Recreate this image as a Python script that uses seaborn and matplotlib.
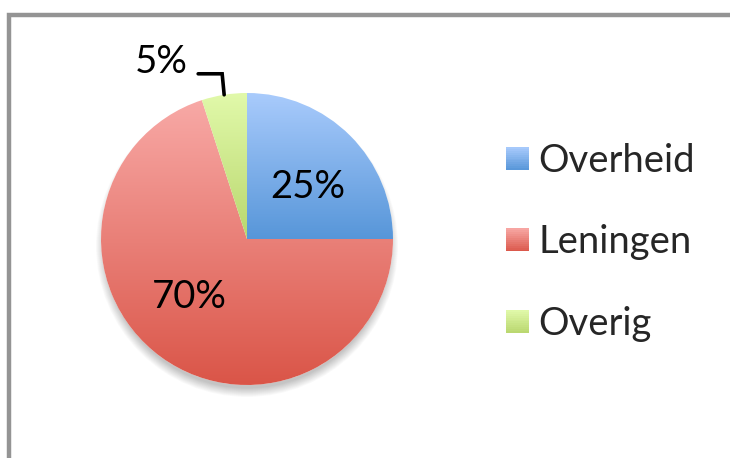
import numpy as np
import matplotlib
matplotlib.use("Agg")
import matplotlib.pyplot as plt
import seaborn as sns
from matplotlib.patches import Rectangle, Circle
from matplotlib.legend_handler import HandlerBase
from matplotlib.colors import LinearSegmentedColormap

# ---- data ----
categories = ["Overheid", "Leningen", "Overig"]
values = [25, 70, 5]
pct_labels = ["25%", "70%", "5%"]
# gradient colours (top, bottom) per category
top_colors = ["#A9CBFC", "#F8A9A6", "#E1F9AA"]
bottom_colors = ["#5796D9", "#DA5548", "#B9D76E"]

sns.set_theme(style="white")
plt.rcParams["font.family"] = ["Lato", "DejaVu Sans"]

W, H = 730, 458
fig = plt.figure(figsize=(W / 100, H / 100), dpi=100)
ax = fig.add_axes([0, 0, 1, 1])
ax.set_xlim(0, W)
ax.set_ylim(0, H)
ax.set_aspect("equal")
ax.axis("off")

# frame
ax.add_patch(Rectangle((8.5, -20), 800, H - 13 + 20 - 1.5, fill=False,
                       edgecolor="#949494", linewidth=3.2, zorder=1))

cx, cy, r = 247, H - 239, 146

# soft shadow (mostly below the pie)
for i in range(12):
    ax.add_patch(Circle((cx, cy - 7), r + 5 - i * 0.8, color="black",
                        alpha=0.02, lw=0, zorder=2))
ax.add_patch(Circle((cx, cy), r, color="white", lw=0, zorder=2.5))

wedges, texts = ax.pie(values, startangle=90, counterclock=False,
                       center=(cx, cy), radius=r, labels=None,
                       wedgeprops=dict(linewidth=0, edgecolor="none"))

for w, tc, bc in zip(wedges, top_colors, bottom_colors):
    w.set_facecolor("none")
    w.set_zorder(4)
    bb = w.get_path().get_extents(w.get_patch_transform())
    cmap = LinearSegmentedColormap.from_list("g", [bc, tc])
    grad = np.linspace(0, 1, 256).reshape(-1, 1)
    im = ax.imshow(grad, cmap=cmap, origin="lower", aspect="auto",
                   extent=(bb.x0, bb.x1, bb.y0, bb.y1), zorder=3,
                   interpolation="bilinear")
    im.set_clip_path(w)

ax.set_xlim(0, W)
ax.set_ylim(0, H)

fs = 27.5
# inside labels (best-fit style placement)
for w, lab, dang, dist in zip(wedges[:2], pct_labels[:2], [-4.5, -9], [0.55, 0.56]):
    ang = np.deg2rad((w.theta1 + w.theta2) / 2 + dang)
    ax.text(cx + dist * r * np.cos(ang), cy + dist * r * np.sin(ang), lab,
            ha="center", va="center", fontsize=fs, color="black", zorder=6)

# outside label with leader
w = wedges[2]
ang = np.deg2rad((w.theta1 + w.theta2) / 2)
ex, ey = cx + r * np.cos(ang), cy + r * np.sin(ang)
ax.plot([ex, ex - 2, ex - 26], [ey, ey + 21, ey + 21], color="black",
        lw=2.6, solid_joinstyle="miter", zorder=6)
ax.text(ex - 36, ey + 33, pct_labels[2], ha="right", va="center",
        fontsize=fs, color="black", zorder=6)


class GradHandler(HandlerBase):
    def __init__(self, tc, bc):
        super().__init__()
        self.tc, self.bc = tc, bc

    def create_artists(self, legend, orig, xd, yd, width, height, fontsize, trans):
        n = 12
        side = width
        arts = []
        c1 = np.array(matplotlib.colors.to_rgb(self.bc))
        c2 = np.array(matplotlib.colors.to_rgb(self.tc))
        y0 = -yd + (height - side) / 2
        for i in range(n):
            c = c1 + (c2 - c1) * (i + 0.5) / n
            arts.append(Rectangle((-xd, y0 + side * i / n), width, side / n + 0.3,
                                  facecolor=c, edgecolor="none", transform=trans))
        return arts


handler_map = {w: GradHandler(tc, bc) for w, tc, bc in zip(wedges, top_colors, bottom_colors)}
leg = ax.legend(wedges, categories, loc="upper left",
                bbox_to_anchor=(506 / W, 1 - 143 / H), frameon=False,
                fontsize=fs, handler_map=handler_map,
                handlelength=0.6, handleheight=0.6, handletextpad=0.25,
                labelspacing=1.19, borderaxespad=0, borderpad=0)

fig.savefig("out.png", dpi=100)
